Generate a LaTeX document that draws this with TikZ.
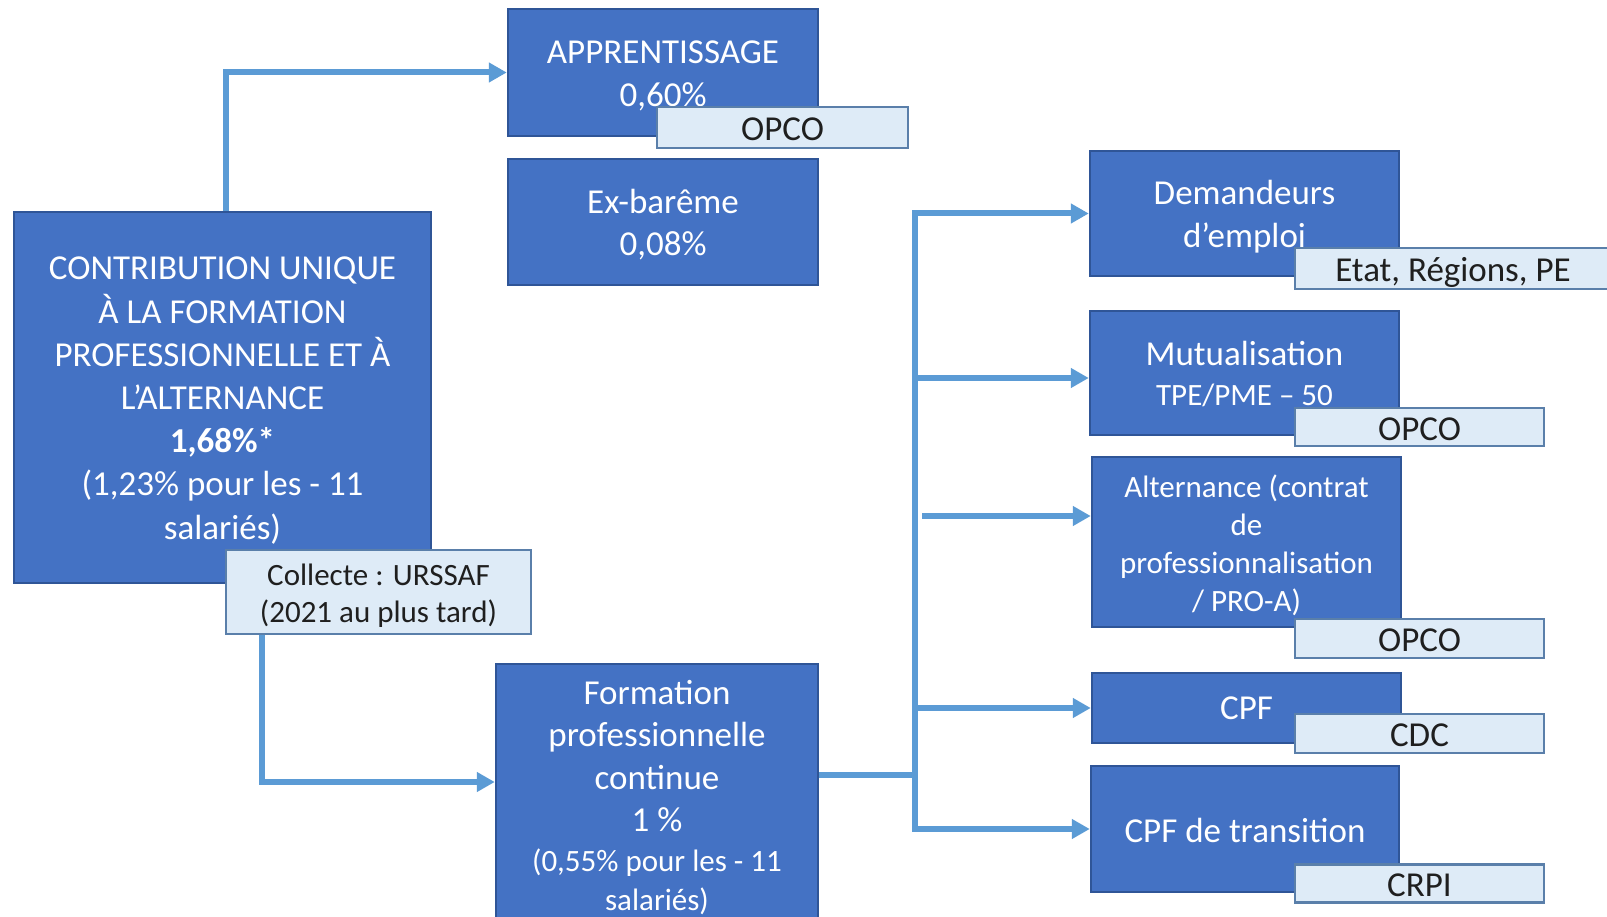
\documentclass[tikz,border=0pt]{standalone}
\usepackage{fontspec}
\setmainfont{Carlito}
\usetikzlibrary{arrows.meta,calc,backgrounds}
\definecolor{boxblue}{HTML}{4472C4}
\definecolor{boxedge}{HTML}{2F5597}
\definecolor{lblfill}{HTML}{DEEBF7}
\definecolor{lbledge}{HTML}{5A7FAA}
\definecolor{connblue}{HTML}{5B9BD5}
\definecolor{lbltext}{HTML}{1F1F1F}
\tikzset{
  bbox/.style={draw=boxedge, line width=2.5pt, fill=boxblue, text=white, align=center,
    inner sep=0pt, font=\fontsize{35}{42.5}\selectfont},
  lbl/.style={draw=lbledge, line width=2.5pt, fill=lblfill, text=lbltext, align=center,
    inner sep=0pt, font=\fontsize{35}{40}\selectfont},
  link/.style={draw=connblue, line width=6pt},
  arr/.style={link, -{Triangle[length=18pt,width=19pt]}},
}
\newcommand{\smalltxt}{\fontsize{31}{38}\selectfont}
\newcommand{\tp}{\rule{0pt}{33pt}}
\newcommand{\bp}{\rule[-8pt]{0pt}{8pt}}
\newcommand{\ltp}{\rule{0pt}{32pt}}
\newcommand{\lbp}{\rule[-6pt]{0pt}{6pt}}
\begin{document}
\begin{tikzpicture}[x=1pt,y=-1pt]
\useasboundingbox (0,0) rectangle (1607,917);
% blue boxes
\node[bbox, minimum width=417, minimum height=371, font=\fontsize{35}{43.2}\selectfont] (contrib) at (222.5,397.5)
  {\rule{0pt}{32pt}CONTRIBUTION UNIQUE\\ À LA FORMATION\\ PROFESSIONNELLE ET À\\ L’ALTERNANCE\\ \textbf{1,68\%*}\\ (1,23\% pour les - 11\\ salariés)\bp};
\node[bbox, minimum width=310, minimum height=127] (app) at (663,72.5) {\tp APPRENTISSAGE\\ 0,60\%\bp};
\node[bbox, minimum width=310, minimum height=126] (exb) at (663,222) {\tp Ex-barême\\ 0,08\%\bp};
\node[bbox, minimum width=322, minimum height=264] (fpc) at (657,796)
  {\rule{0pt}{31pt}Formation\\ professionnelle\\ continue\\ 1 \%\\[-2.5pt] {\smalltxt (0,55\% pour les - 11}\\[-3.5pt] {\smalltxt salariés)}\bp};
\node[bbox, minimum width=309, minimum height=125] (dem) at (1244.5,213.5) {\tp Demandeurs\\ d’emploi\bp};
\node[bbox, minimum width=309, minimum height=124] (mut) at (1244.5,373) {\tp Mutualisation\\[-2.5pt] {\smalltxt TPE/PME – 50}\bp};
\node[bbox, minimum width=309, minimum height=170, font=\smalltxt] (alt) at (1246.5,542)
  {\rule{0pt}{32pt}Alternance (contrat\\ de\\ professionnalisation\\ / PRO-A)\rule[-7pt]{0pt}{7pt}};
\node[bbox, minimum width=309, minimum height=70] (cpf) at (1246.5,708) {\rule{0pt}{31pt}CPF\bp};
\node[bbox, minimum width=308, minimum height=126] (cpft) at (1245,829) {\rule{0pt}{35pt}CPF de transition\bp};
% labels
\node[lbl, minimum width=251, minimum height=41] (lapp) at (782.5,127.5) {\ltp OPCO\lbp};
\node[lbl, minimum width=305, minimum height=84, font=\smalltxt] (lcoll) at (378.5,592)
  {\rule{0pt}{30pt}Collecte : URSSAF\\[-1pt] (2021 au plus tard)\rule[-6.5pt]{0pt}{6.5pt}};
\node[lbl, minimum width=316, minimum height=41] (ldem) at (1453,268.5) {\ltp Etat, Régions, PE\lbp};
\node[lbl, minimum width=249, minimum height=38] (lmut) at (1419.5,427) {\ltp OPCO\lbp};
\node[lbl, minimum width=249, minimum height=39] (lalt) at (1419.5,638.5) {\ltp OPCO\lbp};
\node[lbl, minimum width=249, minimum height=39] (lcpf) at (1419.5,733.5) {\ltp CDC\lbp};
\node[lbl, minimum width=249, minimum height=33] (lcpft) at (1419.5,883.5) {\ltp CRPI\lbp};
% connectors
\begin{scope}[on background layer]
\fill[white] (0,0) rectangle (1607,917);
\draw[arr] ($(contrib.north west)+(213.5,0)$) |- (app.west);
\draw[arr] ($(lcoll.south west)+(37.5,0)$) |- ($(fpc.west)+(0,-14)$);
\coordinate (tr) at (915,775);
\draw[link] ($(fpc.east)+(0,-21)$) -- (tr);
\draw[arr] (tr) |- (dem.west);
\draw[arr] (tr) |- (cpft.west);
\draw[arr] ($(tr |- mut.west)+(0,5)$) -- ($(mut.west)+(0,5)$);
\draw[arr] (tr |- cpf.west) -- (cpf.west);
\coordinate (altstart) at (922,516);
\draw[arr] (altstart) -- (altstart -| alt.west);
\end{scope}
\end{tikzpicture}
\end{document}
